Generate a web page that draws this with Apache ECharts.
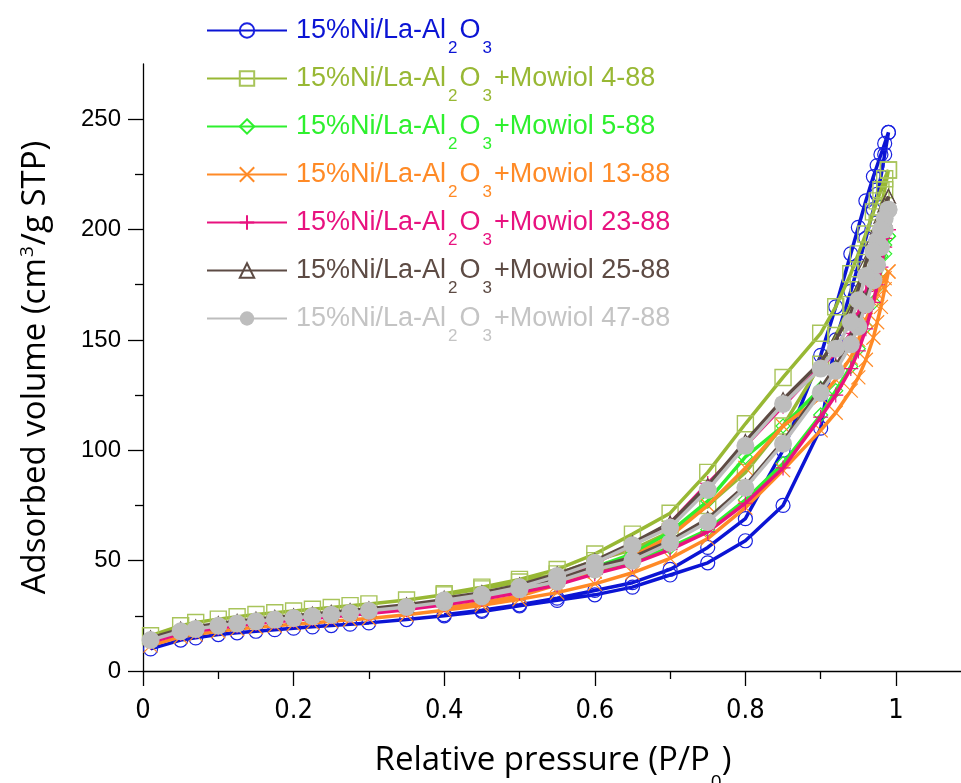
<!DOCTYPE html>
<html><head><meta charset="utf-8">
<script src="https://cdn.jsdelivr.net/npm/echarts@6/dist/echarts.min.js"></script>
<style>html,body{margin:0;padding:0;background:#fff}#c{width:961px;height:783px}</style>
</head><body><div id="c"></div>
<script>
// Relative pressure points
const adsP = [0.01,0.05,0.07,0.1,0.125,0.15,0.175,0.2,0.225,0.25,0.275,0.3,0.35,0.4,0.45,0.5,0.55,0.6,0.65,0.7,0.75,0.8,0.85,0.9,0.92,0.94,0.95,0.96,0.97,0.975,0.98,0.985,0.99];
const desP = [0.99,0.985,0.98,0.975,0.97,0.96,0.95,0.94,0.92,0.9,0.85,0.8,0.75,0.7,0.65,0.6,0.55,0.5,0.45,0.4];

const seriesNames = [
  '15%Ni/La-Al2O3',
  '15%Ni/La-Al2O3+Mowiol 4-88',
  '15%Ni/La-Al2O3+Mowiol 5-88',
  '15%Ni/La-Al2O3+Mowiol 13-88',
  '15%Ni/La-Al2O3+Mowiol 23-88',
  '15%Ni/La-Al2O3+Mowiol 25-88',
  '15%Ni/La-Al2O3+Mowiol 47-88'
];

// adsorption branches (cm3/g STP)
const adsBase  = [10,14,15,16.5,17.3,18,18.7,19.4,20,20.6,21.2,21.8,23.3,25,27,29.5,32,34.5,38,43.5,49,59,75,110,150,172,184,196,209,216,224,234,244];
const ads4_88  = [16,20.5,22,23.5,24.6,25.6,26.4,27.2,28,28.8,29.6,30.4,32.2,34.5,37.2,40.3,44,50,55,63,75,90,111,139,152,166,175,185,196,203,210,218,227];
const ads5_88  = [14.5,18,19,20.5,21.5,22.5,23.3,24,24.8,25.5,26.2,27,28.8,31,33.5,36.5,40,45,49.5,56,64,77.5,94,116,127,138,146,156,167,174,181,189,197];
const ads13_88 = [11.5,15.5,16.5,18,19,19.8,20.5,21.2,21.8,22.5,23.2,23.8,25.5,27.5,29.8,32.5,35.5,39.5,44.5,51,60,74,91,109,117,127,133,141,151,158,165,173,181];
const ads23_88 = [13,17,18,19.5,20.5,21.5,22.3,23,23.8,24.6,25.3,26,27.8,30,32.5,35.5,39,44,48.5,55,63,76,92,115,125,137,145,155,167,175,183,192,200];
const ads25_88 = [15,19,20,21.5,22.5,23.5,24.3,25,25.8,26.6,27.4,28.2,30,32.3,35,38,41.8,47,51.5,59,69,84,104,128,138,150,158,168,180,188,196,205,215];
const ads47_88 = [14,18,19,20.5,21.5,22.5,23.3,24,24.8,25.5,26.3,27.3,29,31.2,33.8,37,40.5,46,50,58,67.5,83,103,126,136,148,156,166,177,184,192,200,209];

// desorption branches
const desBase  = [244,239,234,229,224,213,201,189,165,143,100,69,56,46,40,36.5,33,30,27.5,25.5];
const des4_88  = [227,223,218,213,208,198,189,180,165,153,133,112,90,71.5,62,53,46,41.5,38,35];
const des5_88  = [197,193,188,183,178,168,158,148,137,128,111,97,77,63,53,47,41.5,37.5,34.5,31.5];
const des13_88 = [181,178,175,171,167,159,150,142,132,124,111,92,75,61,52,45,39,34,31,28.5];
const des23_88 = [200,196,192,187,182,172,162,153,144,138,120,102,85,67,57,49,42,37,33.5,30.5];
const des25_88 = [215,211,206,201,196,185,173,162,150,140,123,104,84,67,58,50,44,39,35.5,33];
const des47_88 = [209,205,200,195,190,179,168,158,146,137,121,102,82,65,57,49,43,38,34.5,32];

const xTicks = [0,0.2,0.4,0.6,0.8,1];
const xMinorTicks = [0.1,0.3,0.5,0.7,0.9];
const yTicks = [0,50,100,150,200,250];
const yMinorTicks = [25,75,125,175,225];

const adsList = [adsBase,ads4_88,ads5_88,ads13_88,ads23_88,ads25_88,ads47_88];
const desList = [desBase,des4_88,des5_88,des13_88,des23_88,des25_88,des47_88];

const styles = [
  {line:'#0b14d4', text:'#0b14d4', symbol:'circle', size:14, fill:'transparent', border:'#1a22e0', bw:1.2},
  {line:'#98b834', text:'#98b834', symbol:'rect', size:16, fill:'transparent', border:'#a8c45a', bw:1.4},
  {line:'#2ef02e', text:'#2ef02e', symbol:'diamond', size:14, fill:'transparent', border:'#2ef02e', bw:1.2},
  {line:'#ff8a26', text:'#ff8a26', symbol:'path://M0,0L10,10M10,0L0,10', size:14, fill:'transparent', border:'#ff8a26', bw:1.2},
  {line:'#e8127f', text:'#e8127f', symbol:'path://M5,0L5,10M0,5L10,5', size:15, fill:'transparent', border:'#e8127f', bw:1.2},
  {line:'#5d4b44', text:'#5d4b44', symbol:'triangle', size:14, fill:'transparent', border:'#5d4b44', bw:1.2},
  {line:'#bdbdbd', text:'#c4c4c4', symbol:'circle', size:18, fill:'#bdbdbd', border:'#bdbdbd', bw:0}
];

function loopData(ads, des) {
  const pts = adsP.map((x, i) => [x, ads[i]]);
  desP.forEach((x, i) => pts.push([x, des[i]]));
  return pts;
}

const series = seriesNames.map((name, i) => ({
  name: name,
  type: 'line',
  data: loopData(adsList[i], desList[i]),
  symbol: styles[i].symbol,
  symbolSize: styles[i].size,
  showAllSymbol: true,
  clip: false,
  lineStyle: {color: styles[i].line, width: 3.5},
  itemStyle: {color: styles[i].fill, borderColor: styles[i].border, borderWidth: styles[i].bw},
  emphasis: {disabled: true},
  z: 2 + i
}));

const chart = echarts.init(document.getElementById('c'), null, {renderer: 'canvas'});
chart.setOption({
  animation: false,
  backgroundColor: '#fff',
  grid: {left: 143, right: -2, top: 64, bottom: 112, outerBoundsMode: 'none', containLabel: false},
  legend: {
    left: 206, top: 4, orient: 'vertical', padding: 0,
    itemWidth: 80, itemHeight: 18, itemGap: -5,
    selectedMode: false,
    data: seriesNames.map((n, i) => ({name: n, textStyle: {color: styles[i].text}})),
    formatter: n => n.replace('Al2O3', 'Al{s|2}O{s|3}'),
    textStyle: {
      fontFamily: 'Liberation Sans, Arial, sans-serif', fontSize: 27, lineHeight: 30,
      padding: [0, 0, 0, 4],
      rich: {s: {fontSize: 17, padding: [36, 2, 0, 2], lineHeight: 30, fontFamily: 'Liberation Sans, Arial, sans-serif'}}
    }
  },
  xAxis: [{
    type: 'value', min: 0, max: 1.089, position: 'bottom',
    name: 'Relative pressure (P/P{s|0})', nameLocation: 'middle', nameGap: 68,
    nameTextStyle: {fontFamily: 'Open Sans, sans-serif', fontSize: 33, color: '#000', lineHeight: 38,
      rich: {s: {fontSize: 19, padding: [44, 0, 0, 1], lineHeight: 38, color: '#000', fontFamily: 'Open Sans, sans-serif'}}},
    axisLine: {show: true, onZero: false, lineStyle: {color: '#000', width: 1.3}},
    axisTick: {show: true, customValues: xTicks, length: 15, lineStyle: {color: '#000', width: 1.3}},
    axisLabel: {customValues: xTicks, margin: 26, color: '#000', fontSize: 27,
      fontFamily: 'Liberation Sans Narrow, DejaVu Sans Condensed, sans-serif'},
    splitLine: {show: false}
  }, {
    type: 'value', min: 0, max: 1.089, position: 'bottom',
    axisLine: {show: false},
    axisTick: {show: true, customValues: xMinorTicks, length: 8, lineStyle: {color: '#000', width: 1.3}},
    axisLabel: {show: false},
    splitLine: {show: false}
  }],
  yAxis: [{
    type: 'value', min: 0, max: 275, position: 'left',
    name: 'Adsorbed volume (cm{p|3}/g STP)', nameLocation: 'middle', nameGap: 88,
    nameTextStyle: {fontFamily: 'Open Sans, sans-serif', fontSize: 33, color: '#000', lineHeight: 38,
      rich: {p: {fontSize: 19, padding: [0, 1, 16, 1], lineHeight: 38, color: '#000', fontFamily: 'Open Sans, sans-serif'}}},
    axisLine: {show: true, onZero: false, lineStyle: {color: '#000', width: 1.3}},
    axisTick: {show: true, customValues: yTicks, length: 15, lineStyle: {color: '#000', width: 1.3}},
    axisLabel: {customValues: yTicks, margin: 22, color: '#000', fontSize: 24,
      fontFamily: 'Liberation Sans, Arial, sans-serif'},
    splitLine: {show: false}
  }, {
    type: 'value', min: 0, max: 275, position: 'left',
    axisLine: {show: false},
    axisTick: {show: true, customValues: yMinorTicks, length: 8, lineStyle: {color: '#000', width: 1.3}},
    axisLabel: {show: false},
    splitLine: {show: false}
  }],
  series: series
});
</script>
</body></html>
